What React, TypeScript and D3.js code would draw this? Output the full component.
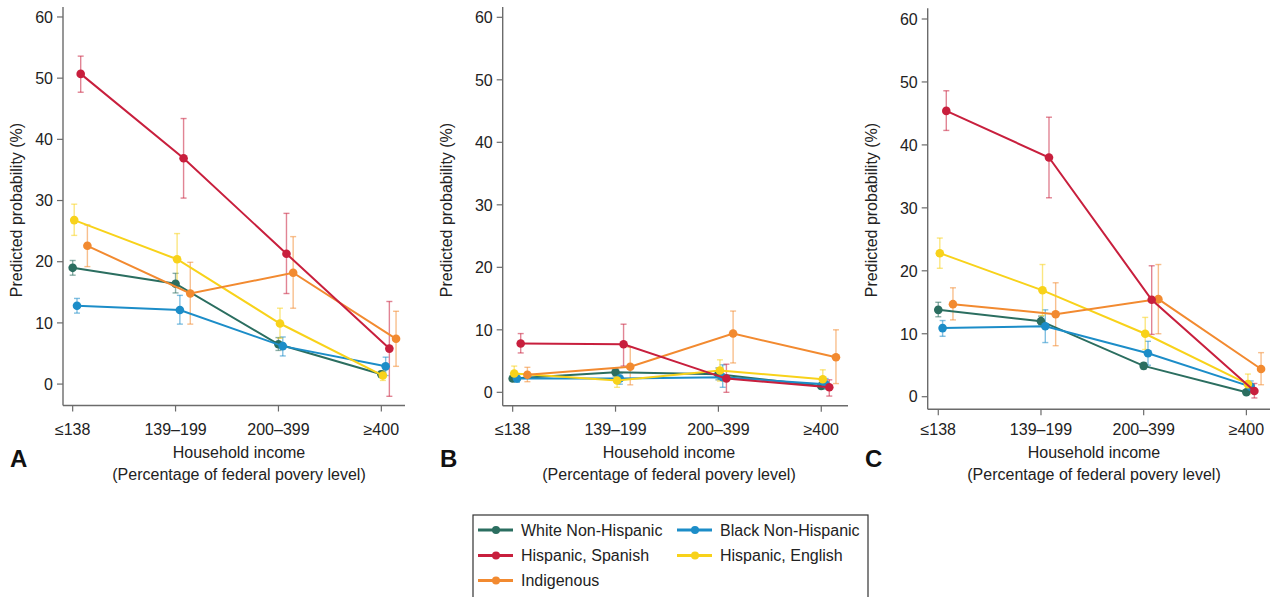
import React from "react";
import * as d3 from "d3";

const categories = ["≤138", "139–199", "200–399", "≥400"];
const seriesNames = ["White Non-Hispanic", "Black Non-Hispanic", "Hispanic, Spanish", "Hispanic, English", "Indigenous"];
const seriesColors = ["#2b6e60", "#1c8dc8", "#c81f3d", "#f8d21a", "#f28a30"];
const seriesDodge = [0, 0.042, 0.078, 0.015, 0.143];
const yTicks = [0, 10, 20, 30, 40, 50, 60];
const panelLetters = ["A", "B", "C"];
const yDomains: [number, number][] = [[-3.5, 61.63], [-2.14, 61.65], [-2.0, 61.7]];
const xDomains: [number, number][] = [[0.906, 4.23], [0.903, 4.26], [0.897, 4.23]];

// Panel A
const aWhite = [19.0, 16.4, 6.5, 1.6], aWhiteLo = [17.8, 14.9, 5.5, 1.1], aWhiteHi = [20.2, 18.1, 7.6, 2.1];
const aBlack = [12.8, 12.1, 6.2, 2.9], aBlackLo = [11.6, 9.8, 4.6, 1.4], aBlackHi = [14.0, 14.5, 7.7, 4.4];
const aHispSp = [50.7, 36.9, 21.3, 5.8], aHispSpLo = [47.7, 30.4, 14.8, -2.0], aHispSpHi = [53.6, 43.4, 27.9, 13.5];
const aHispEn = [26.8, 20.4, 9.9, 1.4], aHispEnLo = [24.3, 16.1, 7.5, 0.6], aHispEnHi = [29.4, 24.6, 12.4, 2.2];
const aIndig = [22.6, 14.8, 18.2, 7.4], aIndigLo = [19.2, 9.8, 12.4, 2.9], aIndigHi = [26.0, 19.9, 24.1, 11.9];

// Panel B
const bWhite = [2.2, 3.2, 2.9, 1.0], bWhiteLo = [1.8, 2.6, 2.0, 0.6], bWhiteHi = [2.6, 3.8, 3.9, 1.4];
const bBlack = [2.2, 2.2, 2.4, 1.3], bBlackLo = [1.6, 1.3, 0.8, 0.5], bBlackHi = [2.8, 3.0, 4.4, 2.2];
const bHispSp = [7.8, 7.7, 2.2, 0.8], bHispSpLo = [6.3, 4.2, 0.0, -0.6], bHispSpHi = [9.4, 10.9, 4.5, 2.0];
const bHispEn = [3.0, 1.9, 3.5, 2.1], bHispEnLo = [1.9, 0.8, 1.8, 0.6], bHispEnHi = [4.2, 3.0, 5.2, 3.6];
const bIndig = [2.8, 4.1, 9.4, 5.6], bIndigLo = [1.7, 1.2, 4.7, 1.4], bIndigHi = [4.0, 7.2, 13.0, 10.0];

// Panel C
const cWhite = [13.8, 12.0, 4.9, 0.7], cWhiteLo = [12.7, 11.2, 4.4, 0.4], cWhiteHi = [15.0, 12.8, 5.4, 1.0];
const cBlack = [10.9, 11.2, 6.9, 1.6], cBlackLo = [9.6, 8.6, 5.0, 0.8], cBlackHi = [12.1, 13.8, 8.8, 2.5];
const cHispSp = [45.4, 38.0, 15.4, 0.9], cHispSpLo = [42.3, 31.6, 9.9, -0.2], cHispSpHi = [48.6, 44.4, 20.8, 2.1];
const cHispEn = [22.8, 16.9, 10.0, 2.0], cHispEnLo = [20.4, 12.9, 7.5, 0.4], cHispEnHi = [25.2, 21.0, 12.6, 3.6];
const cIndig = [14.7, 13.1, 15.5, 4.4], cIndigLo = [12.2, 8.1, 10.0, 1.9], cIndigHi = [17.3, 18.1, 21.0, 7.0];

const panelsData = [
  [[aWhite, aWhiteLo, aWhiteHi], [aBlack, aBlackLo, aBlackHi], [aHispSp, aHispSpLo, aHispSpHi], [aHispEn, aHispEnLo, aHispEnHi], [aIndig, aIndigLo, aIndigHi]],
  [[bWhite, bWhiteLo, bWhiteHi], [bBlack, bBlackLo, bBlackHi], [bHispSp, bHispSpLo, bHispSpHi], [bHispEn, bHispEnLo, bHispEnHi], [bIndig, bIndigLo, bIndigHi]],
  [[cWhite, cWhiteLo, cWhiteHi], [cBlack, cBlackLo, cBlackHi], [cHispSp, cHispSpLo, cHispSpHi], [cHispEn, cHispEnLo, cHispEnHi], [cIndig, cIndigLo, cIndigHi]],
];

// layout (pixels)
const panelX = [0, 430, 855];
const axisLeft = [63, 502.7, 927.7];
const axisRight = [405, 848, 1270];
const axisTop = [7, 7, 8.3];
const axisBottom = [405.5, 405.7, 409.3];
const drawOrder = [0, 1, 3, 4, 2];

const FONT = "'Liberation Sans', Arial, Helvetica, sans-serif";

function Panel({ p }: { p: number }) {
  const x = d3.scaleLinear().domain(xDomains[p]).range([axisLeft[p], axisRight[p]]);
  const y = d3.scaleLinear().domain(yDomains[p]).range([axisBottom[p], axisTop[p]]);
  const line = d3.line<[number, number]>().x((d) => x(d[0])).y((d) => y(d[1]));
  const data = panelsData[p];
  const px = panelX[p];
  const ylCenter = 210;
  return (
    <g>
      {/* axes */}
      <line x1={axisLeft[p]} x2={axisLeft[p]} y1={axisTop[p]} y2={axisBottom[p]} stroke="#6b6b6b" strokeWidth={1.4} />
      <line x1={axisLeft[p]} x2={axisRight[p]} y1={axisBottom[p]} y2={axisBottom[p]} stroke="#6b6b6b" strokeWidth={1.4} />
      {yTicks.map((t) => (
        <g key={t}>
          <line x1={axisLeft[p] - 6} x2={axisLeft[p]} y1={y(t)} y2={y(t)} stroke="#6b6b6b" strokeWidth={1.2} />
          <text x={axisLeft[p] - 10} y={y(t)} dy="0.36em" textAnchor="end" fontSize={16} fill="#222" fontFamily={FONT}>{t}</text>
        </g>
      ))}
      {categories.map((c, i) => (
        <g key={c}>
          <line x1={x(i + 1)} x2={x(i + 1)} y1={axisBottom[p]} y2={axisBottom[p] + 6} stroke="#6b6b6b" strokeWidth={1.2} />
          <text x={x(i + 1)} y={434.8} textAnchor="middle" fontSize={16} fill="#222" fontFamily={FONT}>{c}</text>
        </g>
      ))}
      <text transform={`translate(${px + 21.5},${ylCenter}) rotate(-90)`} textAnchor="middle" fontSize={16} fill="#222" fontFamily={FONT}>Predicted probability (%)</text>
      <text x={px + 239} y={458} textAnchor="middle" fontSize={16} fill="#222" fontFamily={FONT}>Household income</text>
      <text x={px + 239} y={480} textAnchor="middle" fontSize={16} fill="#222" fontFamily={FONT}>(Percentage of federal povery level)</text>
      <text x={px + 10} y={467} fontSize={24} fontWeight="bold" fill="#111" fontFamily={FONT}>{panelLetters[p]}</text>
      {/* error bars */}
      {drawOrder.map((s) => {
        const [vals, lo, hi] = data[s];
        return (
          <g key={"e" + s} stroke={seriesColors[s]} strokeOpacity={0.55} strokeWidth={1.4}>
            {vals.map((v, i) => {
              const cx = x(i + 1 + seriesDodge[s]);
              return (
                <g key={i}>
                  <line x1={cx} x2={cx} y1={y(lo[i])} y2={y(hi[i])} />
                  <line x1={cx - 3} x2={cx + 3} y1={y(lo[i])} y2={y(lo[i])} />
                  <line x1={cx - 3} x2={cx + 3} y1={y(hi[i])} y2={y(hi[i])} />
                </g>
              );
            })}
          </g>
        );
      })}
      {/* lines and points */}
      {drawOrder.map((s) => {
        const [vals] = data[s];
        const pts: [number, number][] = vals.map((v, i) => [i + 1 + seriesDodge[s], v]);
        return (
          <g key={"l" + s}>
            <path d={line(pts) || ""} fill="none" stroke={seriesColors[s]} strokeWidth={2} />
            {pts.map((d, i) => (
              <circle key={i} cx={x(d[0])} cy={y(d[1])} r={4.3} fill={seriesColors[s]} />
            ))}
          </g>
        );
      })}
    </g>
  );
}

function Legend() {
  const cols = [478, 677];
  const rows = [530, 555.5, 580.5];
  return (
    <g>
      <rect x={473} y={515} width={395} height={90} fill="white" stroke="#333" strokeWidth={1.2} />
      {seriesNames.map((n, i) => {
        const cx = cols[i % 2];
        const cy = rows[Math.floor(i / 2)];
        return (
          <g key={n}>
            <line x1={cx} x2={cx + 35} y1={cy} y2={cy} stroke={seriesColors[i]} strokeWidth={3.2} />
            <circle cx={cx + 18} cy={cy} r={4} fill={seriesColors[i]} />
            <text x={cx + 43} y={cy + 5.8} fontSize={16} fill="#222" fontFamily={FONT}>{n}</text>
          </g>
        );
      })}
    </g>
  );
}

export default function App() {
  return (
    <svg width={1277} height={597} style={{ position: "absolute", left: 0, top: 0, background: "white" }}>
      <rect width={1277} height={597} fill="white" />
      {[0, 1, 2].map((p) => (
        <Panel key={p} p={p} />
      ))}
      <Legend />
    </svg>
  );
}
